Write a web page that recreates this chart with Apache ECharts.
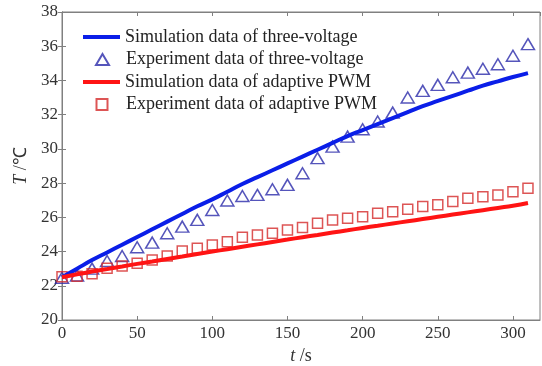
<!DOCTYPE html>
<html><head><meta charset="utf-8">
<script src="https://cdn.jsdelivr.net/npm/echarts@6/dist/echarts.min.js"></script>
<style>html,body{margin:0;padding:0;background:#fff}#c{width:542px;height:366px}</style>
</head><body><div id="c"></div>
<script>
var times = [0,10,20,30,40,50,60,70,80,90,100,110,120,130,140,150,160,170,180,190,200,210,220,230,240,250,260,270,280,290,300,310];
var simThree = [22.5,23.0,23.5,23.95,24.4,24.85,25.3,25.75,26.2,26.65,27.05,27.5,27.95,28.35,28.75,29.15,29.55,29.95,30.35,30.75,31.1,31.45,31.8,32.15,32.5,32.8,33.1,33.4,33.7,33.95,34.2,34.43];
var expThree = [22.47,22.6,23.0,23.45,23.74,24.25,24.52,25.07,25.46,25.85,26.43,26.98,27.25,27.31,27.64,27.9,28.58,29.46,30.13,30.72,31.15,31.6,32.12,33.0,33.39,33.74,34.19,34.46,34.68,34.95,35.44,36.12];
var simPwm = [22.5,22.67,22.83,22.98,23.13,23.28,23.42,23.57,23.71,23.86,24.0,24.14,24.28,24.42,24.56,24.7,24.84,24.97,25.11,25.24,25.38,25.51,25.64,25.77,25.9,26.03,26.16,26.29,26.42,26.55,26.68,26.84];
var expPwm = [22.53,22.55,22.7,23.02,23.16,23.31,23.51,23.74,24.03,24.19,24.39,24.58,24.84,24.97,25.07,25.26,25.4,25.65,25.85,25.95,26.04,26.24,26.33,26.47,26.63,26.73,26.92,27.12,27.21,27.31,27.5,27.7];
var yTicks = [20,22,24,26,28,30,32,34,36,38];
var xTicks = [0,50,100,150,200,250,300];
var names = ['Simulation data of three-voltage','Experiment data of three-voltage','Simulation data of adaptive PWM','Experiment data of adaptive PWM'];

function pairs(v){ return times.map(function(t,i){ return [t, v[i]]; }); }
var FONT = '"Liberation Serif", "Times New Roman", serif';
var axisCol = '#808080';
var legTxt = { fontFamily: FONT, fontSize: 18, color: '#222' };
function leg(name, top, left, icon, w, h, padLeft) {
  return { orient: 'vertical', left: left, top: top, padding: 0, itemWidth: w, itemHeight: h, icon: icon,
    selectedMode: false, data: [name],
    textStyle: Object.assign({ padding: [0, 0, 0, padLeft] }, legTxt) };
}
var chart = echarts.init(document.getElementById('c'));
chart.setOption({
  animation: false,
  backgroundColor: '#fff',
  textStyle: { fontFamily: FONT },
  grid: { left: 62, top: 12, right: 2, bottom: 46, outerBoundsMode: 'none', show: true, borderColor: axisCol, borderWidth: 1 },
  legend: [
    leg(names[0], 28, 83, 'rect', 37, 4, 0),
    leg(names[1], 50.5, 95, 'triangle', 13, 11, 12),
    leg(names[2], 73, 83, 'rect', 37, 4, 0),
    leg(names[3], 95.5, 95.5, 'rect', 11, 11, 13.5)
  ],
  xAxis: [{
    type: 'value', min: 0, max: 318, interval: 50,
    name: '{i|t} /s', nameLocation: 'middle', nameGap: 27,
    nameTextStyle: { fontFamily: FONT, fontSize: 18, color: '#333', rich: { i: { fontStyle: 'italic', fontFamily: FONT, fontSize: 18, color: '#333' } } },
    axisLine: { show: true, lineStyle: { color: axisCol } },
    axisTick: { inside: true, length: 4, lineStyle: { color: axisCol } },
    axisLabel: { showMaxLabel: false, margin: 5, fontFamily: FONT, fontSize: 17, color: '#333',
      formatter: function(v){ return xTicks.indexOf(v) >= 0 ? String(v) : ''; } },
    splitLine: { show: false }
  }, {
    type: 'value', position: 'top', min: 0, max: 318, interval: 50,
    axisLine: { show: true, lineStyle: { color: axisCol } },
    axisTick: { inside: true, length: 4, lineStyle: { color: axisCol } },
    axisLabel: { show: false }, splitLine: { show: false }
  }],
  yAxis: [{
    type: 'value', min: yTicks[0], max: yTicks[yTicks.length-1], interval: 2,
    name: '{i|T} /℃', nameLocation: 'middle', nameGap: 21, nameRotate: 90,
    nameTextStyle: { fontFamily: FONT, fontSize: 18, color: '#333', rich: { i: { fontStyle: 'italic', fontFamily: FONT, fontSize: 18, color: '#333' } } },
    axisLine: { show: true, lineStyle: { color: axisCol } },
    axisTick: { inside: true, length: 4, lineStyle: { color: axisCol } },
    axisLabel: { margin: 4, fontFamily: FONT, fontSize: 17, color: '#333' },
    splitLine: { show: false }
  }, {
    type: 'value', position: 'right', min: yTicks[0], max: yTicks[yTicks.length-1], interval: 2,
    axisLine: { show: true, lineStyle: { color: axisCol } },
    axisTick: { inside: true, length: 4, lineStyle: { color: axisCol } },
    axisLabel: { show: false }, splitLine: { show: false }
  }],
  series: [
    { name: names[0], type: 'line', data: pairs(simThree), symbol: 'none', smooth: true, z: 3,
      lineStyle: { color: '#0a1ee8', width: 4 }, itemStyle: { color: '#0a1ee8' } },
    { name: names[1], type: 'scatter', data: pairs(expThree), symbol: 'triangle', symbolSize: [13, 11], z: 2,
      itemStyle: { color: 'rgba(255,255,255,0)', borderColor: '#2a2aaa', borderWidth: 1.5 } },
    { name: names[2], type: 'line', data: pairs(simPwm), symbol: 'none', smooth: true, z: 3,
      lineStyle: { color: '#ff1414', width: 4 }, itemStyle: { color: '#ff1414' } },
    { name: names[3], type: 'scatter', data: pairs(expPwm), symbol: 'rect', symbolSize: 10, z: 2,
      itemStyle: { color: 'rgba(255,255,255,0)', borderColor: '#d42a2a', borderWidth: 1.5 } }
  ]
});
</script></body></html>
